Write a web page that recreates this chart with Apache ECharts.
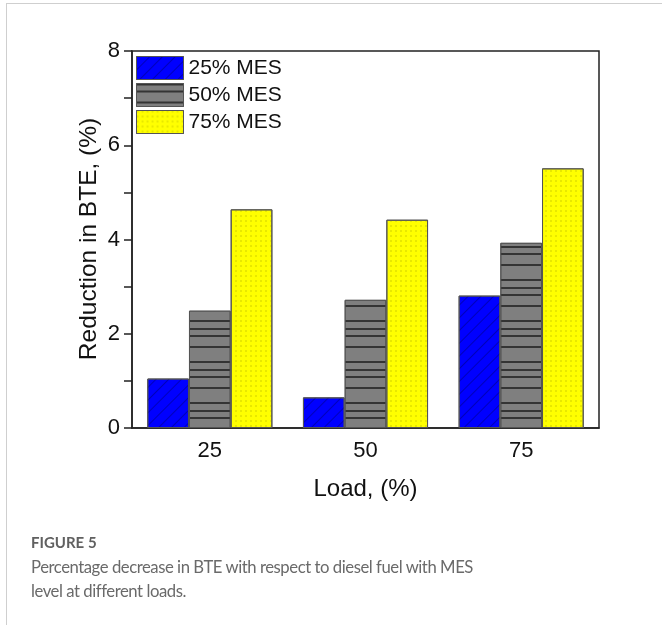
<!DOCTYPE html>
<html>
<head>
<meta charset="utf-8">
<script src="https://cdn.jsdelivr.net/npm/echarts@6/dist/echarts.min.js"></script>
<style>
  html, body { margin: 0; padding: 0; background: #fff; }
  #wrap { position: relative; width: 662px; height: 625px; overflow: hidden; }
  #frameTop { position: absolute; left: 6px; top: 3px; width: 656px; height: 0; border-top: 1px solid #cfcfcf; }
  #frameLeft { position: absolute; left: 6px; top: 3px; width: 0; height: 622px; border-left: 1px solid #cfcfcf; }
  #chart { position: absolute; left: 0; top: 0; width: 662px; height: 625px; }
  #caption { position: absolute; left: 31px; top: 532px; width: 445px; font-family: Lato, "Open Sans", sans-serif; color: #666; }
  #caption .fig { font-size: 15px; font-weight: bold; color: #606060; line-height: 20px; }
  #caption .txt { font-size: 16.7px; letter-spacing: -0.45px; line-height: 24px; margin-top: 3px; color: #6a6a6a; }
</style>
</head>
<body>
<div id="wrap">
  <div id="frameTop"></div>
  <div id="frameLeft"></div>
  <div id="chart"></div>
  <div id="caption">
    <div class="fig">FIGURE 5</div>
    <div class="txt">Percentage decrease in BTE with respect to diesel fuel with MES level at different loads.</div>
  </div>
</div>
<script>
const categories = ['25', '50', '75'];
const seriesNames = ['25% MES', '50% MES', '75% MES'];
const mes25 = [1.05, 0.65, 2.81];
const mes50 = [2.49, 2.72, 3.93];
const mes75 = [4.64, 4.42, 5.51];
const yTitle = 'Reduction in BTE, (%)';
const xTitle = 'Load, (%)';

const chart = echarts.init(document.getElementById('chart'), null, { renderer: 'canvas' });
const font = 'Liberation Sans, Arial, sans-serif';

const styles = [
  { color: '#0000ff', decal: { symbol: 'rect', color: 'rgba(0,0,120,0.5)', dashArrayX: [1, 0], dashArrayY: [1, 8], rotation: -Math.PI / 4, symbolSize: 1 } },
  { color: '#7f7f7f', decal: { symbol: 'rect', color: 'rgba(20,20,20,0.7)', dashArrayX: [1, 0], dashArrayY: [1.5, 5, 1.5, 9, 1.5, 13, 1.5, 6], rotation: 0, symbolSize: 1 } },
  { color: '#ffff00', decal: { symbol: 'circle', color: 'rgba(140,140,0,0.45)', dashArrayX: [1.2, 2.2], dashArrayY: [1.2, 2.2], rotation: 0, symbolSize: 0.8 } }
];
const dataSets = [mes25, mes50, mes75];

chart.setOption({
  animation: false,
  backgroundColor: 'transparent',
  grid: { left: 132, right: 63, top: 51, bottom: 197, show: true, borderColor: '#222', borderWidth: 1.5, backgroundColor: 'transparent' },
  legend: {
    left: 136, top: 56, orient: 'vertical', padding: 0,
    icon: 'rect',
    itemWidth: 47, itemHeight: 23, itemGap: 3,
    textStyle: { fontFamily: font, fontSize: 21, color: '#111' },
    data: seriesNames.map((n, i) => ({ name: n, itemStyle: { color: styles[i].color, borderColor: '#555', borderWidth: 1, decal: styles[i].decal } }))
  },
  graphic: [{
    type: 'text', x: 89, y: 239, rotation: Math.PI / 2,
    style: { text: yTitle, fontFamily: font, fontSize: 24.5, fill: '#111', align: 'center', verticalAlign: 'middle' }
  }],
  xAxis: {
    type: 'category', data: categories,
    name: xTitle, nameLocation: 'middle', nameGap: 49,
    nameTextStyle: { fontFamily: font, fontSize: 24, color: '#111' },
    axisLine: { lineStyle: { color: '#222', width: 1.5 } },
    axisTick: { alignWithLabel: true, length: 7, lineStyle: { color: '#222', width: 1.5 } },
    axisLabel: { fontFamily: font, fontSize: 22, color: '#111', margin: 12 }
  },
  yAxis: {
    type: 'value', min: 0, max: 8, interval: 1,
    axisLine: { show: true, lineStyle: { color: '#222', width: 1.5 } },
    axisTick: { show: true, length: 8, lineStyle: { color: '#222', width: 1.5 } },
    axisLabel: { fontFamily: font, fontSize: 22, color: '#111', margin: 12, formatter: v => (v % 2 === 0 ? String(v) : '') },
    splitLine: { show: false }
  },
  series: dataSets.map((d, i) => ({
    name: seriesNames[i], type: 'bar', data: d,
    barWidth: 41.7, barGap: '0%',
    itemStyle: { color: styles[i].color, borderColor: '#555', borderWidth: 1, decal: styles[i].decal }
  }))
});
</script>
</body>
</html>
